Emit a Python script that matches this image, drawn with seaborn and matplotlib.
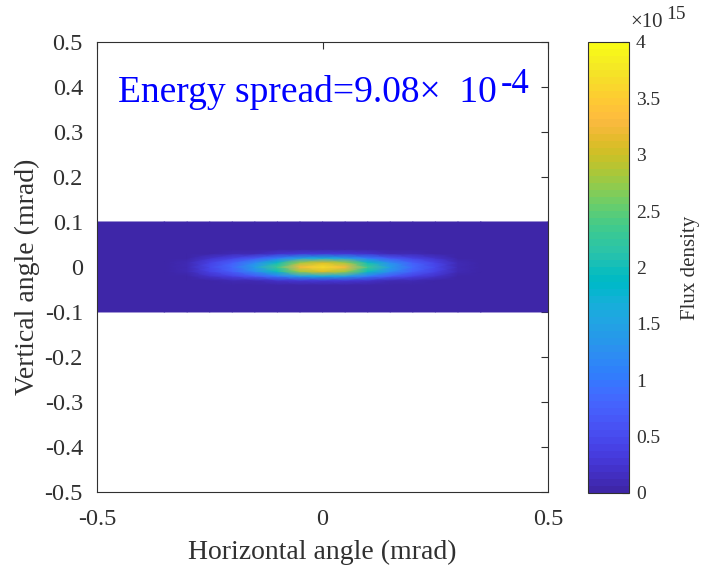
import numpy as np
import matplotlib
matplotlib.use("Agg")
import matplotlib.pyplot as plt
from matplotlib.colors import ListedColormap
import seaborn as sns

sns.set_style("white")
plt.rcParams["font.family"] = ["Liberation Serif", "DejaVu Serif"]

# Horizontal cut through the beam centre (flux density in units of 1e15)
h_angle = [-0.5, -0.35, -0.30, -0.25, -0.20, -0.15, -0.10, -0.05, 0.0,
           0.05, 0.10, 0.15, 0.20, 0.25, 0.30, 0.35, 0.5]
h_profile = [0.0, 0.0, 0.10, 0.45, 0.85, 1.45, 2.35, 3.25, 3.65,
             3.25, 2.35, 1.45, 0.85, 0.45, 0.10, 0.0, 0.0]

# Vertical shape of the spot (relative to the centre row)
v_angle = [-0.1, -0.04, -0.03, -0.02, -0.01, 0.0, 0.01, 0.02, 0.03, 0.04, 0.1]
v_profile = [0.0, 0.0, 0.08, 0.45, 0.85, 1.0, 0.85, 0.45, 0.08, 0.0, 0.0]

ticks = [-0.5, -0.4, -0.3, -0.2, -0.1, 0, 0.1, 0.2, 0.3, 0.4, 0.5]
tick_labels = ["-0.5", "-0.4", "-0.3", "-0.2", "-0.1", "0",
               "0.1", "0.2", "0.3", "0.4", "0.5"]
cbar_ticks = [0, 0.5, 1, 1.5, 2, 2.5, 3, 3.5, 4]
cbar_ticklabels = ["0", "0.5", "1", "1.5", "2", "2.5", "3", "3.5", "4"]

# MATLAB parula (64 levels)
parula = ListedColormap([
    (0.2422, 0.1504, 0.6603), (0.2504, 0.1650, 0.7076), (0.2578, 0.1818, 0.7511),
    (0.2647, 0.1978, 0.7952), (0.2706, 0.2147, 0.8364), (0.2751, 0.2342, 0.8710),
    (0.2783, 0.2559, 0.8991), (0.2803, 0.2782, 0.9221), (0.2813, 0.3006, 0.9414),
    (0.2810, 0.3228, 0.9579), (0.2795, 0.3447, 0.9717), (0.2760, 0.3667, 0.9829),
    (0.2699, 0.3892, 0.9906), (0.2602, 0.4123, 0.9952), (0.2440, 0.4358, 0.9988),
    (0.2206, 0.4603, 0.9973), (0.1963, 0.4847, 0.9892), (0.1834, 0.5074, 0.9798),
    (0.1786, 0.5289, 0.9682), (0.1764, 0.5499, 0.9520), (0.1687, 0.5703, 0.9359),
    (0.1540, 0.5902, 0.9218), (0.1460, 0.6091, 0.9079), (0.1380, 0.6276, 0.8973),
    (0.1248, 0.6459, 0.8883), (0.1113, 0.6635, 0.8763), (0.0952, 0.6798, 0.8598),
    (0.0689, 0.6948, 0.8394), (0.0297, 0.7082, 0.8163), (0.0036, 0.7203, 0.7917),
    (0.0067, 0.7312, 0.7660), (0.0433, 0.7411, 0.7394), (0.0964, 0.7500, 0.7120),
    (0.1408, 0.7584, 0.6842), (0.1717, 0.7670, 0.6554), (0.1938, 0.7758, 0.6251),
    (0.2161, 0.7843, 0.5923), (0.2470, 0.7918, 0.5567), (0.2906, 0.7973, 0.5188),
    (0.3406, 0.8008, 0.4789), (0.3909, 0.8029, 0.4354), (0.4456, 0.8024, 0.3909),
    (0.5044, 0.7993, 0.3480), (0.5616, 0.7942, 0.3045), (0.6174, 0.7876, 0.2612),
    (0.6720, 0.7793, 0.2227), (0.7242, 0.7698, 0.1910), (0.7738, 0.7598, 0.1646),
    (0.8203, 0.7498, 0.1535), (0.8634, 0.7406, 0.1596), (0.9035, 0.7330, 0.1774),
    (0.9393, 0.7288, 0.2100), (0.9728, 0.7298, 0.2394), (0.9956, 0.7434, 0.2371),
    (0.9970, 0.7659, 0.2199), (0.9952, 0.7893, 0.2028), (0.9892, 0.8136, 0.1885),
    (0.9786, 0.8386, 0.1766), (0.9676, 0.8639, 0.1643), (0.9610, 0.8890, 0.1537),
    (0.9597, 0.9135, 0.1423), (0.9628, 0.9373, 0.1265), (0.9691, 0.9606, 0.1064),
    (0.9769, 0.9839, 0.0805)], name="parula")

flux = np.outer(v_profile, h_profile)

ink = "#303030"
fig = plt.figure(figsize=(7.02, 5.72), dpi=100)
ax = fig.add_axes([0.138, 0.1399, 0.643, 0.7867])
cax = fig.add_axes([0.8376, 0.1382, 0.0584, 0.7884])

mesh = ax.pcolormesh(h_angle, v_angle, flux, shading="gouraud",
                     cmap=parula, vmin=0, vmax=4, rasterized=True)

ax.set_xlim(-0.5, 0.5)
ax.set_ylim(-0.5, 0.5)
ax.set_xticks([-0.5, 0, 0.5])
ax.set_xticklabels(["-0.5", "0", "0.5"])
ax.set_yticks(ticks)
ax.set_yticklabels(tick_labels)
ax.tick_params(direction="in", length=5, width=0.8, colors=ink, labelsize=17.5,
               top=True, right=True)
ax.tick_params(axis="y", pad=10)
ax.tick_params(axis="x", pad=12)
for s in ax.spines.values():
    s.set_color(ink)
    s.set_linewidth(0.8)
ax.set_xlabel("Horizontal angle (mrad)", fontsize=20, color=ink)
ax.set_ylabel("Vertical angle (mrad)", fontsize=20, color=ink)
ax.xaxis.label.set_va("center")
ax.yaxis.label.set_va("center")
ax.xaxis.set_label_coords(0.5, -0.135)
ax.yaxis.set_label_coords(-0.153, 0.478)


def label_with_exponent(base_text, exponent, x, y, size, exp_size, color,
                        raise_pt, gap_pt, coords):
    base = ax.text(x, y, base_text, color=color, fontsize=size,
                   va="baseline", ha="left", transform=coords)
    ax.annotate(exponent, xy=(1, 0), xycoords=base, xytext=(gap_pt, raise_pt),
                textcoords="offset points", fontsize=exp_size, color=color,
                va="baseline", ha="left", annotation_clip=False)
    return base


label_with_exponent("Energy spread=9.08\u00d7  10", "-4", -0.453, 0.366,
                    27, 25, "blue", 12.3, 2.5, ax.transData)

cb = fig.colorbar(mesh, cax=cax)
cb.set_ticks(cbar_ticks)
cb.set_ticklabels(cbar_ticklabels)
cb.outline.set_edgecolor(ink)
cb.outline.set_linewidth(0.8)
cax.tick_params(direction="in", length=5, width=0.8, colors=ink, labelsize=14,
                right=True, left=False, pad=5)
cb.set_label("Flux density", fontsize=15, color=ink)
cax.yaxis.label.set_va("center")
cax.yaxis.set_label_coords(2.49, 0.5)

label_with_exponent("\u00d710", "15", 630 / 702, 1 - 27 / 572, 15, 14, ink,
                    9.5, 3, fig.transFigure)

fig.savefig("out.png", dpi=100, facecolor="white")
